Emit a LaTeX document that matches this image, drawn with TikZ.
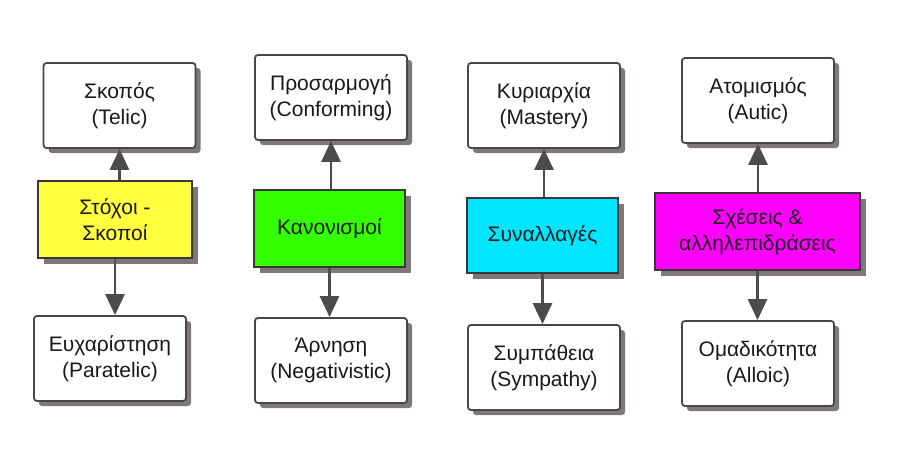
\documentclass[tikz,border=0pt]{standalone}
\usepackage{fontspec}
\setmainfont{Liberation Sans}
\usepackage{xcolor}
\usetikzlibrary{arrows.meta, shadows, positioning}

\definecolor{bong}{RGB}{128,120,120}
\definecolor{vang}{RGB}{255,255,64}
\definecolor{xanhla}{RGB}{51,255,0}
\definecolor{xanhduong}{RGB}{0,230,255}
\definecolor{tim}{RGB}{255,0,255}

\begin{document}
\begin{tikzpicture}[x=1pt, y=-1pt, >={Triangle[length=21pt, width=19pt]},
    every node/.style={font=\fontsize{21}{26}\selectfont, text=black!90, align=center, inner sep=0pt},
    hop/.style={draw=black!72, line width=1.8pt, rounded corners=3pt, fill=white,
        minimum width=152pt, minimum height=85pt,
        drop shadow={shadow xshift=5pt, shadow yshift=-5pt, fill=bong, opacity=1}},
    chinh/.style={draw=black!78, line width=2.4pt, minimum height=77pt,
        drop shadow={shadow xshift=6pt, shadow yshift=-6pt, fill=bong, opacity=1}},
    mui/.style={->, draw=black!70, line width=2.8pt}]
    \useasboundingbox (0,0) rectangle (900,460);

    % 1. Cột thứ nhất
    \node[hop] (telic) at (119.5,105.5) {Σκοπός\\(Telic)};
    \node[chinh, fill=vang, minimum width=154pt] (stoxoi) at (115,219.5) {Στόχοι -\\Σκοποί};
    \node[hop] (paratelic) at (110,358.5) {Ευχαρίστηση\\(Paratelic)};

    % 2. Cột thứ hai
    \node[hop] (conform) at (331,97.5) {Προσαρμογή\\(Conforming)};
    \node[chinh, fill=xanhla, minimum width=151pt] (kanon) at (329.5,228.5) {Κανονισμοί};
    \node[hop] (negat) at (331,360.5) {Άρνηση\\(Negativistic)};

    % 3. Cột thứ ba
    \node[hop] (mastery) at (544,105.5) {Κυριαρχία\\(Mastery)};
    \node[chinh, fill=xanhduong, minimum width=151pt, minimum height=75pt] (synal) at (542.5,235.5) {Συναλλαγές};
    \node[hop] (sympathy) at (544,367.5) {Συμπάθεια\\(Sympathy)};

    % 4. Cột thứ tư
    \node[hop] (autic) at (758,100.5) {Ατομισμός\\(Autic)};
    \node[chinh, fill=tim, minimum width=205pt] (sxeseis) at (757.5,231.5) {Σχέσεις \&\\αλληλεπιδράσεις};
    \node[hop] (alloic) at (758,363.5) {Ομαδικότητα\\(Alloic)};

    % Các mũi tên lên trên và xuống dưới
    \draw[mui] (telic.south |- stoxoi.north) -- (telic.south);
    \draw[mui] (stoxoi.south) -- (stoxoi.south |- paratelic.north);
    \draw[mui] (conform.south |- kanon.north) -- (conform.south);
    \draw[mui] (kanon.south) -- (kanon.south |- negat.north);
    \draw[mui] (mastery.south |- synal.north) -- (mastery.south);
    \draw[mui] (synal.south) -- (synal.south |- sympathy.north);
    \draw[mui] (autic.south |- sxeseis.north) -- (autic.south);
    \draw[mui] (sxeseis.south) -- (sxeseis.south |- alloic.north);

\end{tikzpicture}
\end{document}
